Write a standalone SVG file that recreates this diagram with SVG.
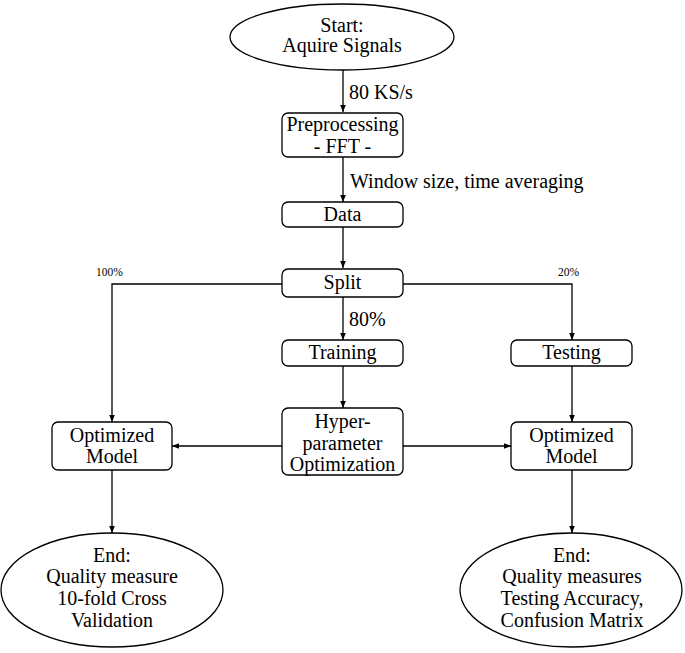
<svg xmlns="http://www.w3.org/2000/svg" width="685" height="653" viewBox="0 0 685 653">
<defs>
<marker id="ah" viewBox="0 0 10 10" refX="10" refY="5" markerWidth="7" markerHeight="7" markerUnits="userSpaceOnUse" orient="auto">
<path d="M0,1 L10,5 L0,9 z" fill="#000"/>
</marker>
<style>
.n{fill:#fff;stroke:#000;stroke-width:1.3}
.c{fill:none;stroke:#000;stroke-width:1.3;marker-end:url(#ah)}
</style>
</defs>
<rect width="685" height="653" fill="#fff"/>
<g id="connectors">
<path class="c" d="M343,70 V112"/>
<path class="c" d="M343,157 V202"/>
<path class="c" d="M343,227 V268"/>
<path class="c" d="M343,297 V340"/>
<path class="c" d="M282,284 H112 V422"/>
<path class="c" d="M403,284 H572 V340"/>
<path class="c" d="M343,366 V408"/>
<path class="c" d="M572,366 V422"/>
<path class="c" d="M282,446 H172"/>
<path class="c" d="M403,446 H511"/>
<path class="c" d="M112,470 V533"/>
<path class="c" d="M572,470 V533"/>
<text font-family="Liberation Serif" font-size="20" x="349" y="99">80 KS/s</text>
<text font-family="Liberation Serif" font-size="20" x="350" y="188">Window size, time averaging</text>
<text font-family="Liberation Serif" font-size="20" x="349" y="326">80%</text>
<text font-family="Liberation Serif" font-size="11.5" x="96" y="276">100%</text>
<text font-family="Liberation Serif" font-size="11.5" x="558" y="276">20%</text>
</g>
<g id="start">
<ellipse class="n" cx="342" cy="37" rx="112" ry="33"/>
<text font-family="Liberation Serif" font-size="20" text-anchor="middle" x="342" y="32">Start:</text>
<text font-family="Liberation Serif" font-size="20" text-anchor="middle" x="342" y="52">Aquire Signals</text>
</g>
<g id="preprocessing">
<rect class="n" x="282" y="113" width="121" height="44" rx="6"/>
<text font-family="Liberation Serif" font-size="20" text-anchor="middle" x="342.5" y="131">Preprocessing</text>
<text font-family="Liberation Serif" font-size="20" text-anchor="middle" x="342.5" y="153">- FFT -</text>
</g>
<g id="data">
<rect class="n" x="282" y="202" width="121" height="25" rx="6"/>
<text font-family="Liberation Serif" font-size="20" text-anchor="middle" x="342.5" y="221">Data</text>
</g>
<g id="split">
<rect class="n" x="282" y="269" width="121" height="28" rx="6"/>
<text font-family="Liberation Serif" font-size="20" text-anchor="middle" x="342.5" y="289">Split</text>
</g>
<g id="training">
<rect class="n" x="282" y="340" width="121" height="26" rx="6"/>
<text font-family="Liberation Serif" font-size="20" text-anchor="middle" x="342.5" y="359">Training</text>
</g>
<g id="testing">
<rect class="n" x="511" y="340" width="121" height="26" rx="6"/>
<text font-family="Liberation Serif" font-size="20" text-anchor="middle" x="571.5" y="359">Testing</text>
</g>
<g id="hyper">
<rect class="n" x="282" y="408" width="121" height="67" rx="6"/>
<text font-family="Liberation Serif" font-size="20" text-anchor="middle" x="342.5" y="428">Hyper-</text>
<text font-family="Liberation Serif" font-size="20" text-anchor="middle" x="342.5" y="450">parameter</text>
<text font-family="Liberation Serif" font-size="20" text-anchor="middle" x="342.5" y="471">Optimization</text>
</g>
<g id="optLeft">
<rect class="n" x="52" y="422" width="120" height="48" rx="6"/>
<text font-family="Liberation Serif" font-size="20" text-anchor="middle" x="112" y="442">Optimized</text>
<text font-family="Liberation Serif" font-size="20" text-anchor="middle" x="112" y="463">Model</text>
</g>
<g id="optRight">
<rect class="n" x="511" y="422" width="121" height="48" rx="6"/>
<text font-family="Liberation Serif" font-size="20" text-anchor="middle" x="571.5" y="442">Optimized</text>
<text font-family="Liberation Serif" font-size="20" text-anchor="middle" x="571.5" y="463">Model</text>
</g>
<g id="endLeft">
<ellipse class="n" cx="112" cy="590" rx="111" ry="57"/>
<text font-family="Liberation Serif" font-size="20" text-anchor="middle" x="112" y="562">End:</text>
<text font-family="Liberation Serif" font-size="20" text-anchor="middle" x="112" y="583">Quality measure</text>
<text font-family="Liberation Serif" font-size="20" text-anchor="middle" x="112" y="605">10-fold Cross</text>
<text font-family="Liberation Serif" font-size="20" text-anchor="middle" x="112" y="627">Validation</text>
</g>
<g id="endRight">
<ellipse class="n" cx="571" cy="590" rx="111" ry="57"/>
<text font-family="Liberation Serif" font-size="20" text-anchor="middle" x="572" y="562">End:</text>
<text font-family="Liberation Serif" font-size="20" text-anchor="middle" x="572" y="583">Quality measures</text>
<text font-family="Liberation Serif" font-size="20" text-anchor="middle" x="572" y="605">Testing Accuracy,</text>
<text font-family="Liberation Serif" font-size="20" text-anchor="middle" x="572" y="627">Confusion Matrix</text>
</g>
</svg>
